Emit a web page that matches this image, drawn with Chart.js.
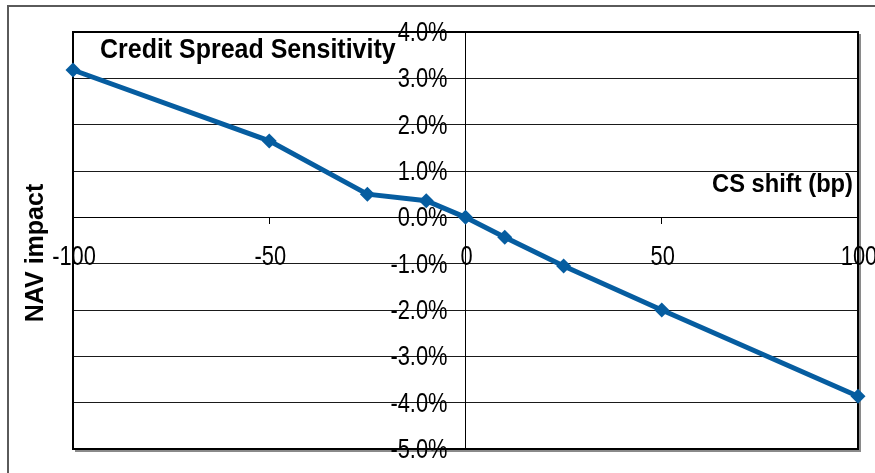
<!DOCTYPE html>
<html>
<head>
<meta charset="utf-8">
<script src="https://cdn.jsdelivr.net/npm/chart.js@4/dist/chart.umd.min.js"></script>
<style>
  html, body { margin: 0; padding: 0; background: #ffffff; }
  #wrap { width: 875px; height: 473px; position: relative; }
  canvas { display: block; }
</style>
</head>
<body>
<div id="wrap"><canvas id="chart" width="875" height="473"></canvas></div>
<script>
// Credit spread shift (bp) and the resulting NAV impact (%)
const shiftsBp = [-100, -50, -25, -10, 0, 10, 25, 50, 100];
const navImpactPct = [3.18, 1.65, 0.50, 0.36, 0.00, -0.43, -1.05, -2.00, -3.86];

const chartTitle = 'Credit Spread Sensitivity';
const xAxisTitle = 'CS shift (bp)';
const yAxisTitle = 'NAV impact';

const LINE_BLUE = '#065DA0';
const SANS = "'Liberation Sans', Arial, sans-serif";
const TICK_SIZE = 28;

// Draws a string horizontally condensed around its anchor point
function squeezedText(ctx, text, x, y, align, squeeze) {
  ctx.save();
  ctx.translate(x, y);
  ctx.scale(squeeze, 1);
  ctx.textAlign = align;
  ctx.fillText(text, 0, 0);
  ctx.restore();
}

// Outer chart frame, plot frame, tick labels beside the crossing axes, titles
const decorations = {
  id: 'decorations',
  beforeDraw(chart) {
    const ctx = chart.ctx;
    ctx.save();
    ctx.strokeStyle = '#5a5a5a';
    ctx.lineWidth = 2;
    ctx.beginPath();
    ctx.moveTo(8, 480);
    ctx.lineTo(8, 6);
    ctx.lineTo(880, 6);
    ctx.stroke();
    ctx.restore();
  },
  beforeDatasetsDraw(chart) {
    const {ctx, chartArea: a, scales: {x: xs, y: ys}} = chart;
    ctx.save();
    // plot frame with a slight drop shadow on the right and bottom
    ctx.strokeStyle = '#8a8a8a';
    ctx.lineWidth = 2;
    ctx.beginPath();
    ctx.moveTo(a.right + 2, a.top + 2);
    ctx.lineTo(a.right + 2, a.bottom + 2);
    ctx.lineTo(a.left + 2, a.bottom + 2);
    ctx.stroke();
    ctx.strokeStyle = '#000000';
    ctx.lineWidth = 2;
    ctx.strokeRect(a.left, a.top, a.right - a.left, a.bottom - a.top);

    // tick labels, placed from the scales' own ticks and pixel mapping
    ctx.fillStyle = '#000000';
    ctx.font = TICK_SIZE + 'px ' + SANS;
    ctx.textBaseline = 'alphabetic';
    const axisX = xs.getPixelForValue(0);
    const axisY = ys.getPixelForValue(0);
    ys.ticks.forEach(t => {
      squeezedText(ctx, t.label, axisX - 18, ys.getPixelForValue(t.value) + 9, 'right', 0.78);
    });
    xs.ticks.forEach(t => {
      squeezedText(ctx, t.label, xs.getPixelForValue(t.value) + 1, axisY + 48, 'center', 0.78);
    });

    // titles
    ctx.font = 'bold 27px ' + SANS;
    squeezedText(ctx, chartTitle, a.left + 27, 58, 'left', 0.925);

    ctx.font = 'bold 25.5px ' + SANS;
    squeezedText(ctx, xAxisTitle, a.right - 5, 192, 'right', 0.93);

    ctx.translate(43, 253);
    ctx.rotate(-Math.PI / 2);
    ctx.font = 'bold 25px ' + SANS;
    ctx.textAlign = 'center';
    ctx.fillText(yAxisTitle, 0, 0);
    ctx.restore();
  }
};

new Chart(document.getElementById('chart'), {
  type: 'scatter',
  data: {
    datasets: [{
      data: shiftsBp.map((x, i) => ({x: x, y: navImpactPct[i]})),
      showLine: true,
      borderColor: LINE_BLUE,
      backgroundColor: LINE_BLUE,
      borderWidth: 5,
      pointStyle: 'rectRot',
      pointRadius: 7.5,
      pointHoverRadius: 7.5,
      pointBorderWidth: 0,
      clip: false
    }]
  },
  options: {
    responsive: false,
    animation: false,
    events: [],
    layout: { padding: { left: 73, top: 32, right: 17, bottom: 24 } },
    plugins: { legend: { display: false }, tooltip: { enabled: false } },
    scales: {
      x: {
        type: 'linear',
        position: { y: 0 },
        min: -100,
        max: 100,
        ticks: { stepSize: 50, display: false },
        grid: {
          drawOnChartArea: false,
          drawTicks: true,
          tickLength: 6,
          color: '#000000'
        },
        border: { display: true, color: '#000000', width: 1 }
      },
      y: {
        type: 'linear',
        position: { x: 0 },
        min: -5,
        max: 4,
        ticks: {
          stepSize: 1,
          display: false,
          callback: v => v.toFixed(1) + '%'
        },
        grid: {
          color: '#1a1a1a',
          lineWidth: 1,
          drawTicks: true,
          tickLength: 5
        },
        border: { display: true, color: '#000000', width: 1 }
      }
    }
  },
  plugins: [decorations]
});
</script>
</body>
</html>
